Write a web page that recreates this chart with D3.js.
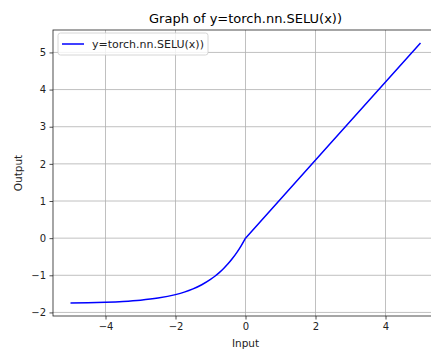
<!DOCTYPE html>
<html lang="en">
<head>
<meta charset="utf-8">
<script src="https://d3js.org/d3.v7.min.js"></script>
<style>
  body { margin: 0; background: #fff; }
  text { font-family: "DejaVu Sans", sans-serif; }
</style>
</head>
<body>
<script>
// values
var inputs  = [-5, -4.5, -4, -3.5, -3, -2.5, -2, -1.75, -1.5, -1.25, -1, -0.875, -0.75, -0.625, -0.5, -0.375, -0.25, -0.125, 0, 2.5, 5];
var outputs = [-1.746, -1.739, -1.726, -1.705, -1.671, -1.614, -1.520, -1.453, -1.366, -1.254, -1.111, -1.025, -0.928, -0.817, -0.692, -0.550, -0.389, -0.207, 0, 2.627, 5.254];
var xTicks = [-4, -2, 0, 2, 4];
var yTicks = [-2, -1, 0, 1, 2, 3, 4, 5];
var title = "Graph of y=torch.nn.SELU(x))";
var seriesName = "y=torch.nn.SELU(x))";

var width = 431, height = 349;
// plot box (right edge runs past the picture, as in the reference)
var pLeft = 53, pRight = 438, pTop = 30, pBottom = 316;

var svg = d3.select("body").append("svg")
  .attr("width", width)
  .attr("height", height);

var x = d3.scaleLinear().domain([-5.5, 5.5]).range([pLeft, pRight]);
var y = d3.scaleLinear().domain([-2.096, 5.604]).range([pBottom, pTop]);

// grid
svg.append("g").selectAll("line").data(xTicks).enter().append("line")
  .attr("x1", d => x(d)).attr("x2", d => x(d))
  .attr("y1", pTop).attr("y2", pBottom)
  .attr("stroke", "#b0b0b0").attr("stroke-width", 0.8);
svg.append("g").selectAll("line").data(yTicks).enter().append("line")
  .attr("x1", pLeft).attr("x2", pRight)
  .attr("y1", d => y(d)).attr("y2", d => y(d))
  .attr("stroke", "#b0b0b0").attr("stroke-width", 0.8);

// axes
var fmt = d => d < 0 ? "\u2212" + Math.abs(d) : d;
var xAxis = d3.axisBottom(x).tickValues(xTicks).tickSize(3.5).tickPadding(3.5).tickFormat(fmt);
var yAxis = d3.axisLeft(y).tickValues(yTicks).tickSize(3.5).tickPadding(3.5).tickFormat(fmt);

var gx = svg.append("g").attr("transform", "translate(0," + pBottom + ")").call(xAxis);
var gy = svg.append("g").attr("transform", "translate(" + pLeft + ",0)").call(yAxis);
[gx, gy].forEach(function(g) {
  g.select(".domain").remove();
  g.selectAll("line").attr("stroke", "#222").attr("stroke-width", 0.8);
  g.selectAll("text").attr("fill", "#222").style("font-size", "10px")
    .style("font-family", "DejaVu Sans, sans-serif");
});

// frame
svg.append("rect")
  .attr("x", pLeft).attr("y", pTop)
  .attr("width", pRight - pLeft).attr("height", pBottom - pTop)
  .attr("fill", "none").attr("stroke", "#222").attr("stroke-width", 0.8);

// curve: smooth negative branch, straight positive branch
var pts = inputs.map((d, i) => [d, outputs[i]]);
var line = d3.line().x(d => x(d[0])).y(d => y(d[1]));
svg.append("path")
  .datum(pts.filter(d => d[0] <= 0))
  .attr("d", line.curve(d3.curveMonotoneX))
  .attr("fill", "none")
  .attr("stroke", "#0000ff")
  .attr("stroke-width", 1.5);
svg.append("path")
  .datum(pts.filter(d => d[0] >= 0))
  .attr("d", line.curve(d3.curveLinear))
  .attr("fill", "none")
  .attr("stroke", "#0000ff")
  .attr("stroke-width", 1.5);

// title & labels
svg.append("text").attr("x", (pLeft + pRight) / 2).attr("y", 23)
  .attr("text-anchor", "middle").style("font-size", "13px").attr("fill", "#000")
  .text(title);
svg.append("text").attr("x", (pLeft + pRight) / 2).attr("y", 347)
  .attr("text-anchor", "middle").style("font-size", "10.5px").attr("fill", "#222")
  .text("Input");
svg.append("text").attr("transform", "translate(22," + ((pTop + pBottom) / 2) + ") rotate(-90)")
  .attr("text-anchor", "middle").style("font-size", "10.5px").attr("fill", "#222")
  .text("Output");

// legend
var lg = svg.append("g");
lg.append("rect")
  .attr("x", 58).attr("y", 33).attr("width", 150).attr("height", 22)
  .attr("rx", 2.5)
  .attr("fill", "#fff").attr("fill-opacity", 0.8)
  .attr("stroke", "#ccc").attr("stroke-width", 0.8);
lg.append("line")
  .attr("x1", 62).attr("x2", 84).attr("y1", 44).attr("y2", 44)
  .attr("stroke", "#0000ff").attr("stroke-width", 1.5);
lg.append("text").attr("x", 92).attr("y", 48)
  .style("font-size", "11px").attr("fill", "#222")
  .text(seriesName);
</script>
</body>
</html>
